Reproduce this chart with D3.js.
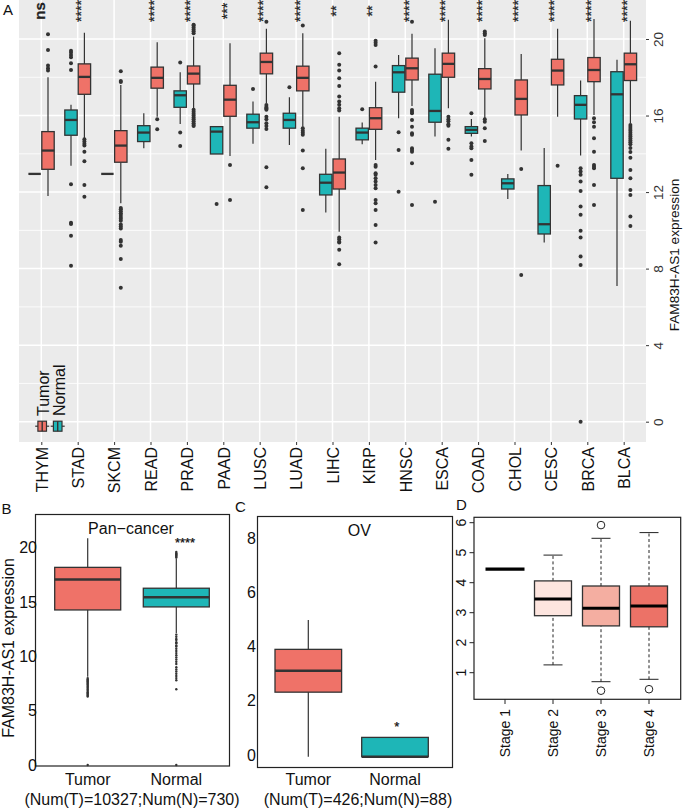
<!DOCTYPE html>
<html><head><meta charset="utf-8">
<script src="https://cdn.jsdelivr.net/npm/d3@7"></script>
<style>body{margin:0;background:#fff} text{font-family:"Liberation Sans",Arial,sans-serif}</style>
</head><body>
<svg id="chart" width="685" height="809"></svg>
<script>
// ---------- Panel A data ----------
const categories = ["THYM","STAD","SKCM","READ","PRAD","PAAD","LUSC","LUAD","LIHC","KIRP","HNSC","ESCA","COAD","CHOL","CESC","BRCA","BLCA"];
const significance = ["ns","****","","****","****","***","****","****","**","**","****","****","****","****","****","****","****"];
const tumorLow    = [11.8,14.81,11.42,15.94,16.38,13.89,16.64,15.42,9.93,13.68,16.5,16.38,15.86,14.17,15.94,16.03,15.6];
const tumorQ1     = [13.19,17.11,13.56,17.43,17.65,15.96,18.18,17.29,12.16,15.28,17.86,18.0,17.39,16.03,17.6,17.77,17.83];
const tumorMedian = [14.17,18.02,14.43,17.97,18.19,16.83,18.8,17.97,13.02,15.86,18.47,18.7,17.91,16.87,18.35,18.38,18.68];
const tumorQ3     = [15.16,18.7,15.21,18.53,18.59,17.58,19.26,18.58,13.73,16.41,19.0,19.26,18.45,17.86,18.94,19.03,19.26];
const tumorHigh   = [18.0,20.33,17.6,19.83,20.13,19.78,20.53,20.3,15.94,17.77,20.27,21.0,20.04,19.21,20.53,21.05,20.96];
const tumorOutliers = [
  [20.25,19.43,18.61,18.47,18.35],
  [14.76,14.64,14.52,14.43,14.11,13.61,12.37,11.75],
  [18.32,17.8,17.75,11.17,11.1,11.0,10.9,10.8,10.7,10.6,10.5,10.3,10.2,10.1,9.5,9.4,9.2,8.5,7.0],
  [15.8,15.28],
  [20.3,20.4,20.5,20.6,20.7,20.75,16.3,16.2,16.1,16.0,15.9,15.8,15.7,15.6,15.5,15.45],
  [13.42,11.58],
  [20.9,16.55,16.45,16.4,16.35,16.3,15.94,15.8,15.6,15.45,15.3,13.3,12.25],
  [20.7,15.34,15.2,15.1,14.99,14.17,13.24,11.07],
  [19.26,18.65,18.35,17.95,17.55,16.99,16.73,16.56,16.38,16.26,9.62,9.53,9.41,9.36,8.98,8.23],
  [18.56,19.91,19.81,19.69,13.42,13.33,12.98,12.9,12.72,12.55,12.37,12.2,11.59,11.42,11.07,10.28,9.36],
  [20.9,16.29,16.2,16.12,15.77,15.42,15.07,14.99,14.29,14.2,14.11,13.51,11.33],
  [15.94,15.8,15.7,15.55,15.46,14.73,14.26],
  [20.21,20.3,20.39,15.8,15.68,15.34,14.67],
  [13.2,7.67],
  [13.37],
  [15.86,15.65,15.42,14.81,14.11,13.42,13.33,13.24,12.37,11.33],
  [15.5,15.4,15.3,15.2,15.1,15.0,14.9,14.8,14.7,14.6,14.5,14.3,14.1,13.8,13.16,12.72,12.11,11.85,10.72,10.23]
];
const normalLow    = [12.95,13.38,12.95,14.29,15.56,13.99,14.52,14.46,10.93,14.5,15.86,14.9,14.9,11.64,9.36,13.91,7.09];
const normalQ1     = [12.95,14.97,12.95,14.64,16.43,13.99,15.34,15.34,11.85,14.73,17.22,15.65,15.07,12.16,9.81,15.82,12.72];
const normalMedian = [12.95,15.77,12.95,15.11,17.06,15.16,15.65,15.77,12.49,15.11,18.26,16.24,15.25,12.46,10.32,16.56,17.11];
const normalQ3     = [12.95,16.29,12.95,15.47,17.29,15.42,16.07,16.12,12.93,15.34,18.61,18.16,15.42,12.69,12.34,17.04,18.29];
const normalHigh   = [12.95,16.56,12.95,16.12,18.26,15.42,16.73,16.96,14.26,15.63,19.17,19.52,15.82,12.95,14.31,17.83,18.91];
const normalOutliers = [
  [],
  [19.38,19.29,19.17,19.04,18.73,18.38,12.41,10.4,10.33,9.72,8.15],
  [],
  [],
  [18.77,15.11,14.41],
  [11.38],
  [17.39],
  [17.48],
  [],
  [16.33],
  [15.13,14.2,12.02],
  [11.5],
  [16.12,14.55,14.38,14.29,13.68,12.9],
  [],
  [],
  [13.24,13.07,12.9,12.55,12.06,11.24,10.81,9.98,9.62,8.63,8.19,0],
  []
];
const yTicksA = [0,4,8,12,16,20];
const yMinorA = [2,6,10,14,18];
const groups = ["Tumor","Normal"];

// ---------- Panel B data (Pan-cancer) ----------
const panB = ["Tumor","Normal"];
const panStats = [ // low, q1, median, q3, high
  [8.13,14.27,17.08,18.19,20.87],
  [12.13,14.55,15.44,16.27,19.0]
];
const panOutliers = [
  [8.0,7.9,7.8,7.7,7.6,7.5,7.4,7.3,7.2,7.1,7.0,6.9,6.8,6.7,6.6,6.5,6.4,6.3,0],
  [19.1,19.2,19.3,19.4,19.5,19.6,12.0,11.8,11.6,11.5,11.3,11.2,11.0,10.9,10.7,10.5,10.3,10.1,9.9,9.7,9.5,9.3,9.0,8.8,8.6,8.4,8.2,8.0,7.8,6.97,0]
];
const yTicksB = [0,5,10,15,20];

// ---------- Panel C data (OV) ----------
const ovStats = [
  [-0.06,2.32,3.11,3.9,4.98],
  [-0.06,-0.06,-0.06,0.65,0.65]
];
const yTicksC = [0,2,4,6,8];

// ---------- Panel D data (stages) ----------
const stages = ["Stage 1","Stage 2","Stage 3","Stage 4"];
const stageStats = [
  [4.45,4.45,4.45,4.45,4.45],
  [1.26,2.9,3.46,4.06,4.92],
  [0.7,2.56,3.15,3.89,5.48],
  [0.78,2.53,3.22,3.89,5.67]
];
const stageOutliers = [[],[],[5.92,0.4],[0.45]];
const stageColors = ["#000000","#FDE5DF","#F4AEA1","#EC7267"];
const yTicksD = [1,2,3,4,5,6];

const RED = "#EF7268", TEAL = "#1EB6B7";
const svg = d3.select("#chart");

// =============== PANEL A ===============
const A = {left:19, right:646, top:0, bottom:442};
const xA = d3.scalePoint().domain(categories).range([41.3,623.7]);
const yA = d3.scaleLinear().domain([0,20]).range([421.7,39]);
const gA = svg.append("g");
gA.append("rect").attr("x",A.left).attr("y",A.top).attr("width",A.right-A.left).attr("height",A.bottom-A.top).attr("fill","#EBEBEB");
gA.selectAll("line.minor").data(yMinorA).join("line").attr("class","minor")
  .attr("x1",A.left).attr("x2",A.right).attr("y1",d=>yA(d)).attr("y2",d=>yA(d)).attr("stroke","#fff").attr("stroke-width",0.8);
gA.selectAll("line.majy").data(yTicksA).join("line").attr("class","majy")
  .attr("x1",A.left).attr("x2",A.right).attr("y1",d=>yA(d)).attr("y2",d=>yA(d)).attr("stroke","#fff").attr("stroke-width",1.5);
gA.selectAll("line.majx").data(categories).join("line").attr("class","majx")
  .attr("x1",d=>xA(d)).attr("x2",d=>xA(d)).attr("y1",A.top).attr("y2",A.bottom).attr("stroke","#fff").attr("stroke-width",1.5);

const boxesA = [];
categories.forEach((c,i)=>{
  boxesA.push({c, cx:xA(c)-6.7, fill:TEAL, s:[normalLow[i],normalQ1[i],normalMedian[i],normalQ3[i],normalHigh[i]], out:normalOutliers[i]});
  boxesA.push({c, cx:xA(c)+6.7, fill:RED, s:[tumorLow[i],tumorQ1[i],tumorMedian[i],tumorQ3[i],tumorHigh[i]], out:tumorOutliers[i]});
});
const hwA = 6.2;
boxesA.forEach(b=>{
  const g = gA.append("g");
  g.append("line").attr("x1",b.cx).attr("x2",b.cx).attr("y1",yA(b.s[0])).attr("y2",yA(b.s[1])).attr("stroke","#333").attr("stroke-width",1.2);
  g.append("line").attr("x1",b.cx).attr("x2",b.cx).attr("y1",yA(b.s[3])).attr("y2",yA(b.s[4])).attr("stroke","#333").attr("stroke-width",1.2);
  g.append("rect").attr("x",b.cx-hwA).attr("width",2*hwA).attr("y",yA(b.s[3])).attr("height",Math.max(0,yA(b.s[1])-yA(b.s[3])))
    .attr("fill",b.fill).attr("stroke","#333").attr("stroke-width",1.3);
  g.append("line").attr("x1",b.cx-hwA).attr("x2",b.cx+hwA).attr("y1",yA(b.s[2])).attr("y2",yA(b.s[2])).attr("stroke","#333").attr("stroke-width",2.3);
  g.selectAll("circle").data(b.out).join("circle").attr("cx",b.cx).attr("cy",d=>yA(d)).attr("r",2).attr("fill","#333");
});

// significance labels, in a group with opacity to get grey antialiasing
const gSig = gA.append("g").attr("opacity",0.995);
gSig.selectAll("text.sig").data(categories).join("text").attr("class","sig")
  .attr("transform",(d,i)=>significance[i]==="ns" ? `translate(${xA(d)+4},11) rotate(-90)` : `translate(${xA(d)+8.5},11) rotate(-90)`)
  .attr("text-anchor","middle")
  .attr("font-size",(d,i)=>significance[i]==="ns"?15:14)
  .attr("font-weight",(d,i)=>significance[i]==="ns"?"bold":"normal")
  .attr("fill","#222").attr("stroke","#222").attr("stroke-width",0.25)
  .text((d,i)=>significance[i]);

// right axis
const axA = gA.append("g").attr("transform",`translate(${A.right},0)`)
  .call(d3.axisRight(yA).tickValues(yTicksA).tickSize(3).tickFormat(d3.format("d")));
axA.select(".domain").remove();
axA.selectAll(".tick line").attr("stroke","#333");
axA.selectAll(".tick text").attr("x",null).attr("dy",null).attr("transform","translate(17,0) rotate(-90)")
  .attr("text-anchor","middle").attr("font-size",13.5).attr("fill","#333");
gA.append("text").attr("transform","translate(679,255) rotate(-90)").attr("text-anchor","middle")
  .attr("font-size",13.6).attr("fill","#111").text("FAM83H-AS1 expression");

// bottom axis
const axAx = gA.append("g").attr("transform",`translate(0,${A.bottom})`)
  .call(d3.axisBottom(xA).tickSize(3));
axAx.select(".domain").remove();
axAx.selectAll(".tick line").attr("stroke","#333");
axAx.selectAll(".tick text").attr("y",null).attr("dy",null).attr("transform","translate(5.8,5) rotate(-90)")
  .attr("text-anchor","end").attr("font-size",16).attr("fill","#111");

// legend
const legX = [42.2, 57.7];
groups.forEach((gname,i)=>{
  const cx = legX[i], fill = i===0?RED:TEAL;
  gA.append("line").attr("x1",cx-7).attr("x2",cx+7).attr("y1",426.2).attr("y2",426.2).attr("stroke","#333").attr("stroke-width",1.2);
  gA.append("rect").attr("x",cx-4.3).attr("y",421.2).attr("width",8.6).attr("height",10).attr("fill",fill).attr("stroke","#333").attr("stroke-width",1.2);
  gA.append("line").attr("x1",cx).attr("x2",cx).attr("y1",421.2).attr("y2",431.2).attr("stroke","#333").attr("stroke-width",1.4);
  gA.append("text").attr("transform",`translate(${cx+6.8},416) rotate(-90)`).attr("font-size",16).attr("fill","#111").text(gname);
});
svg.append("text").attr("x",3).attr("y",15).attr("font-size",15).attr("fill","#111").text("A");

// =============== PANEL B ===============
const xB = d3.scalePoint().domain(panB).range([87.7,176.3]);
const yB = d3.scaleLinear().domain([0,20]).range([765,547.7]);
const gB = svg.append("g");
gB.append("rect").attr("x",35.5).attr("y",514.5).attr("width",194).attr("height",251.5).attr("fill","none").attr("stroke","#222").attr("stroke-width",1.2);
panB.forEach((k,i)=>{
  const s = panStats[i], cx = xB(k), hw = 33, fill = i===0?RED:TEAL;
  gB.append("line").attr("x1",cx).attr("x2",cx).attr("y1",yB(s[0])).attr("y2",yB(s[4])).attr("stroke","#333").attr("stroke-width",1.2);
  gB.append("rect").attr("x",cx-hw).attr("width",2*hw).attr("y",yB(s[3])).attr("height",yB(s[1])-yB(s[3])).attr("fill",fill).attr("stroke","#333").attr("stroke-width",1.3);
  gB.append("line").attr("x1",cx-hw).attr("x2",cx+hw).attr("y1",yB(s[2])).attr("y2",yB(s[2])).attr("stroke","#333").attr("stroke-width",2.5);
  gB.selectAll(null).data(panOutliers[i]).join("circle").attr("cx",cx).attr("cy",d=>yB(d)).attr("r",1.2).attr("fill","#333");
});
gB.selectAll("text.yt").data(yTicksB).join("text").attr("class","yt").attr("x",37).attr("y",d=>yB(d)).attr("dy","0.35em")
  .attr("text-anchor","end").attr("font-size",16).attr("fill","#111").text(d=>d);
gB.selectAll("text.xt").data(panB).join("text").attr("class","xt").attr("x",d=>xB(d)).attr("y",785).attr("text-anchor","middle")
  .attr("font-size",16).attr("fill","#111").text(d=>d);
gB.append("text").attr("x",132).attr("y",805).attr("text-anchor","middle").attr("font-size",16).attr("fill","#111").text("(Num(T)=10327;Num(N)=730)");
gB.append("text").attr("x",131).attr("y",533.5).attr("text-anchor","middle").attr("font-size",16).attr("fill","#111").text("Pan\u2212cancer");
gB.append("g").attr("opacity",0.995).append("text").attr("x",185).attr("y",547).attr("text-anchor","middle").attr("font-size",13).attr("fill","#111").attr("stroke","#111").attr("stroke-width",0.25).text("****");
gB.append("text").attr("transform","translate(14,648) rotate(-90)").attr("text-anchor","middle").attr("font-size",16).attr("fill","#111").text("FAM83H-AS1 expression");
svg.append("text").attr("x",1.5).attr("y",513.5).attr("font-size",15).attr("fill","#111").text("B");

// =============== PANEL C ===============
const xC = d3.scalePoint().domain(panB).range([308.3,395]);
const yC = d3.scaleLinear().domain([0,8]).range([755,538.3]);
const gC = svg.append("g");
gC.append("rect").attr("x",257.5).attr("y",516.5).attr("width",195).attr("height",251).attr("fill","none").attr("stroke","#222").attr("stroke-width",1.2);
panB.forEach((k,i)=>{
  const s = ovStats[i], cx = xC(k), hw = 33.3, fill = i===0?RED:TEAL;
  gC.append("line").attr("x1",cx).attr("x2",cx).attr("y1",yC(s[0])).attr("y2",yC(s[4])).attr("stroke","#333").attr("stroke-width",1.2);
  gC.append("rect").attr("x",cx-hw).attr("width",2*hw).attr("y",yC(s[3])).attr("height",yC(s[1])-yC(s[3])).attr("fill",fill).attr("stroke","#333").attr("stroke-width",1.3);
  gC.append("line").attr("x1",cx-hw).attr("x2",cx+hw).attr("y1",yC(s[2])).attr("y2",yC(s[2])).attr("stroke","#333").attr("stroke-width",2.5);
});
gC.selectAll("text.yt").data(yTicksC).join("text").attr("class","yt").attr("x",256).attr("y",d=>yC(d)).attr("dy","0.35em")
  .attr("text-anchor","end").attr("font-size",16).attr("fill","#111").text(d=>d);
gC.selectAll("text.xt").data(panB).join("text").attr("class","xt").attr("x",d=>xC(d)).attr("y",785).attr("text-anchor","middle")
  .attr("font-size",16).attr("fill","#111").text(d=>d);
gC.append("text").attr("x",358).attr("y",805).attr("text-anchor","middle").attr("font-size",16).attr("fill","#111").text("(Num(T)=426;Num(N)=88)");
gC.append("text").attr("x",359.3).attr("y",536).attr("text-anchor","middle").attr("font-size",16).attr("fill","#111").text("OV");
gC.append("g").attr("opacity",0.995).append("text").attr("x",396.7).attr("y",731).attr("text-anchor","middle").attr("font-size",13).attr("fill","#111").attr("stroke","#111").attr("stroke-width",0.25).text("*");
svg.append("text").attr("x",235).attr("y",511.5).attr("font-size",15).attr("fill","#111").text("C");

// =============== PANEL D ===============
const xD = d3.scalePoint().domain(stages).range([505,649]);
const yD = d3.scaleLinear().domain([0,6]).range([702.7,522.7]);
const gD = svg.append("g");
gD.append("rect").attr("x",474).attr("y",517.3).attr("width",206.7).attr("height",182).attr("fill","none").attr("stroke","#222").attr("stroke-width",1.2);
stages.forEach((k,i)=>{
  const s = stageStats[i], cx = xD(k), hw = 18.5;
  if (i===0) {
    gD.append("line").attr("x1",cx-19.5).attr("x2",cx+19.5).attr("y1",yD(s[2])).attr("y2",yD(s[2])).attr("stroke","#000").attr("stroke-width",3.2);
    return;
  }
  gD.append("line").attr("x1",cx).attr("x2",cx).attr("y1",yD(s[0])).attr("y2",yD(s[1])).attr("stroke","#222").attr("stroke-dasharray","3,2.5").attr("stroke-width",1);
  gD.append("line").attr("x1",cx).attr("x2",cx).attr("y1",yD(s[3])).attr("y2",yD(s[4])).attr("stroke","#222").attr("stroke-dasharray","3,2.5").attr("stroke-width",1);
  [s[0],s[4]].forEach(v=>gD.append("line").attr("x1",cx-9.5).attr("x2",cx+9.5).attr("y1",yD(v)).attr("y2",yD(v)).attr("stroke","#222").attr("stroke-width",1));
  gD.append("rect").attr("x",cx-hw).attr("width",2*hw).attr("y",yD(s[3])).attr("height",yD(s[1])-yD(s[3])).attr("fill",stageColors[i]).attr("stroke","#333").attr("stroke-width",1.3);
  gD.append("line").attr("x1",cx-hw).attr("x2",cx+hw).attr("y1",yD(s[2])).attr("y2",yD(s[2])).attr("stroke","#000").attr("stroke-width",3);
  gD.selectAll(null).data(stageOutliers[i]).join("circle").attr("cx",cx).attr("cy",d=>yD(d)).attr("r",3.8).attr("fill","none").attr("stroke","#222").attr("stroke-width",1);
});
gD.selectAll("line.yt").data(yTicksD).join("line").attr("class","yt").attr("x1",469.5).attr("x2",474).attr("y1",d=>yD(d)).attr("y2",d=>yD(d)).attr("stroke","#222");
gD.selectAll("text.yt").data(yTicksD).join("text").attr("class","yt").attr("transform",d=>`translate(466,${yD(d)}) rotate(-90)`)
  .attr("text-anchor","middle").attr("font-size",14).attr("fill","#111").text(d=>d);
gD.selectAll("line.xt").data(stages).join("line").attr("class","xt").attr("x1",d=>xD(d)).attr("x2",d=>xD(d)).attr("y1",699.3).attr("y2",704).attr("stroke","#222");
gD.selectAll("text.xt").data(stages).join("text").attr("class","xt").attr("transform",d=>`translate(${xD(d)+5},709) rotate(-90)`)
  .attr("text-anchor","end").attr("font-size",14).attr("fill","#111").text(d=>d);
svg.append("text").attr("x",456).attr("y",510).attr("font-size",15).attr("fill","#111").text("D");
</script>
</body></html>
